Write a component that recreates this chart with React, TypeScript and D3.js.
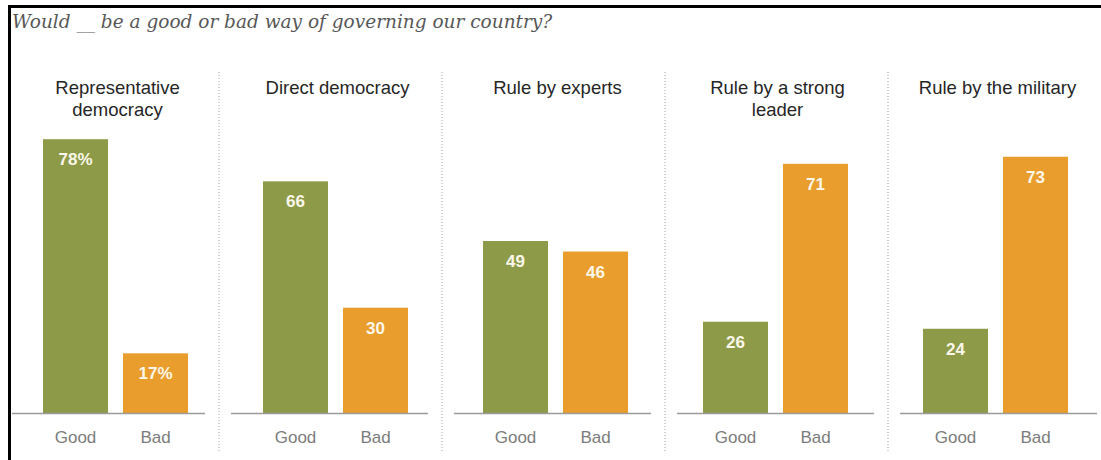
import React from "react";
import * as d3 from "d3";

const categories = [
  "Representative democracy",
  "Direct democracy",
  "Rule by experts",
  "Rule by a strong leader",
  "Rule by the military",
];
const titleLines = [
  ["Representative", "democracy"],
  ["Direct democracy"],
  ["Rule by experts"],
  ["Rule by a strong", "leader"],
  ["Rule by the military"],
];
const answers = ["Good", "Bad"];
const goodValues = [78, 66, 49, 26, 24];
const badValues = [17, 30, 46, 71, 73];
const questionText = "Would __ be a good or bad way of governing our country?";

const W = 1101;
const H = 460;
const GREEN = "#8d9b48";
const ORANGE = "#e99d2c";

export default function App() {
  const panel = d3.scaleBand<string>().domain(categories).range([5.5, 1105.5]).padding(0);
  const y = d3.scaleLinear().domain([0, 100]).range([413, 62]);
  const sepX = d3.scaleLinear().domain([1, 4]).range([219, 888]);
  const baseY = y(0);

  return (
    <svg
      width={W}
      height={H}
      style={{ position: "absolute", left: 0, top: 0, background: "#fff" }}
      fontFamily="'Liberation Sans', Arial, sans-serif"
    >
      <rect x={0} y={0} width={W} height={H} fill="#fff" />
      {/* frame */}
      <line x1={8} x2={W} y1={6.5} y2={6.5} stroke="#000" strokeWidth={3} />
      <line x1={9.5} x2={9.5} y1={5} y2={H} stroke="#000" strokeWidth={3} />
      <text
        x={12}
        y={28}
        fontFamily="'DejaVu Serif', Georgia, serif"
        fontStyle="italic"
        fontSize={18.5}
        fill="#585858"
      >
        {questionText}
      </text>

      {categories.map((cat, i) => {
        const x0 = panel(cat)!;
        const cx = x0 + panel.bandwidth() / 2;
        const inner = d3
          .scaleBand<string>()
          .domain(answers)
          .range([cx - 72.5, cx + 72.5])
          .paddingInner(0.1875)
          .paddingOuter(0);
        const vals = [goodValues[i], badValues[i]];
        const segStart = i === 0 ? 12 : sepX(i) + 12;
        const segEnd = i === categories.length - 1 ? 1097 : sepX(i + 1) - 14;
        const lines = titleLines[i];
        return (
          <g key={cat}>
            {lines.map((ln, j) => (
              <text
                key={j}
                x={cx + 2}
                y={94 + j * 22}
                textAnchor="middle"
                fontSize={18.5}
                fill="#262626"
              >
                {ln}
              </text>
            ))}
            {answers.map((a, k) => {
              const bx = inner(a)!;
              const v = vals[k];
              return (
                <g key={a}>
                  <rect
                    x={bx}
                    y={y(v)}
                    width={inner.bandwidth()}
                    height={baseY - y(v)}
                    fill={k === 0 ? GREEN : ORANGE}
                  />
                  <text
                    x={bx + inner.bandwidth() / 2}
                    y={y(v) + 26}
                    textAnchor="middle"
                    fontSize={17}
                    fontWeight="bold"
                    fill="#fbf7ea"
                  >
                    {i === 0 ? `${v}%` : `${v}`}
                  </text>
                  <text
                    x={bx + inner.bandwidth() / 2}
                    y={443}
                    textAnchor="middle"
                    fontSize={17}
                    fill="#7c7c7c"
                  >
                    {a}
                  </text>
                </g>
              );
            })}
            <line x1={segStart} x2={segEnd} y1={baseY + 0.5} y2={baseY + 0.5} stroke="#9a9a9a" strokeWidth={1.5} />
          </g>
        );
      })}

      {[1, 2, 3, 4].map((s) => (
        <line
          key={s}
          x1={sepX(s)}
          x2={sepX(s)}
          y1={72}
          y2={452}
          stroke="#a0a0a0"
          strokeWidth={1}
          strokeDasharray="1,2"
        />
      ))}
    </svg>
  );
}
